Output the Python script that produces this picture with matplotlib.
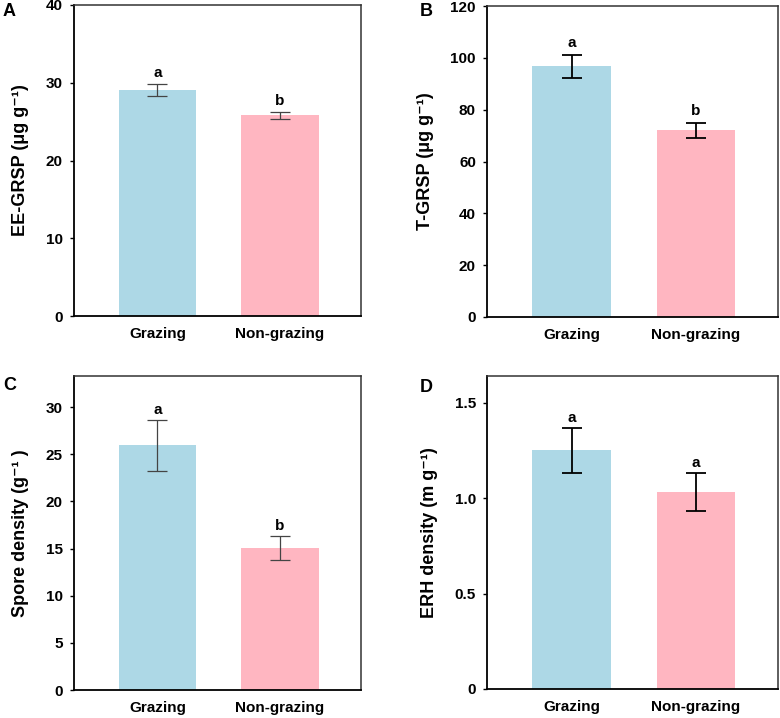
import numpy as np
import matplotlib as mpl
import matplotlib.pyplot as plt

mpl.rcParams['font.family'] = ['Liberation Sans', 'DejaVu Sans']
mpl.rcParams['font.weight'] = 'bold'

# data
groups = ['Grazing', 'Non-grazing']
colors = ['#add8e6', '#ffb6c1']

ee_grsp = [29.1, 25.8]
ee_grsp_err = [0.8, 0.5]
ee_letters = ['a', 'b']

t_grsp = [96.8, 72.0]
t_grsp_err = [4.4, 2.8]
t_letters = ['a', 'b']

spore = [25.95, 15.05]
spore_err = [2.7, 1.3]
spore_letters = ['a', 'b']

erh = [1.25, 1.031]
erh_err = [0.117, 0.1]
erh_letters = ['a', 'a']

W, H = 780, 718
fig = plt.figure(figsize=(W / 100, H / 100), dpi=100)


def px_axes(x0, y0, x1, y1):
    # pixel box (left, top, right, bottom) -> figure coords
    return fig.add_axes([x0 / W, 1 - y1 / H, (x1 - x0) / W, (y1 - y0) / H])


def bar_panel(ax, vals, errs, letters, ylim, yticks, yticklabels, ylabel,
              err_color, err_lw, letter_off):
    x = np.arange(len(groups))
    ax.bar(x, vals, width=0.63, color=colors, zorder=1)
    ax.errorbar(x, vals, yerr=errs, fmt='none', ecolor=err_color,
                elinewidth=err_lw, capsize=7, capthick=err_lw, zorder=2)
    for xi, v, e, lt in zip(x, vals, errs, letters):
        ax.text(xi, v + e + letter_off, lt, ha='center', va='bottom',
                fontsize=11, fontweight='bold')
    ax.set_xlim(-0.68, 1.66)
    ax.set_ylim(*ylim)
    ax.set_xticks(x)
    ax.set_xticklabels(groups, fontsize=11, fontweight='bold')
    ax.set_yticks(yticks)
    ax.set_yticklabels(yticklabels, fontsize=11, fontweight='bold')
    ax.tick_params(axis='x', length=0, pad=8)
    ax.tick_params(axis='y', length=3, width=1, pad=5)
    ax.set_ylabel(ylabel, fontsize=13, fontweight='bold', labelpad=12)
    for s in ['left', 'bottom']:
        ax.spines[s].set_color('black')
        ax.spines[s].set_linewidth(1.3)
    for s in ['top', 'right']:
        ax.spines[s].set_color('#333333')
        ax.spines[s].set_linewidth(1.1)


axA = px_axes(74, 5, 361, 316)
bar_panel(axA, ee_grsp, ee_grsp_err, ee_letters, (0, 40), [0, 10, 20, 30, 40],
          ['0', '10', '20', '30', '40'], 'EE-GRSP (μg g⁻¹)',
          '#444444', 0.9, 0.4)

axB = px_axes(487, 6, 778, 317)
bar_panel(axB, t_grsp, t_grsp_err, t_letters, (0, 120), [0, 20, 40, 60, 80, 100, 120],
          ['0', '20', '40', '60', '80', '100', '120'], 'T-GRSP (μg g⁻¹)',
          'black', 1.3, 1.8)

axC = px_axes(74, 376, 361, 690)
bar_panel(axC, spore, spore_err, spore_letters, (0, 33.3), [0, 5, 10, 15, 20, 25, 30],
          ['0', '5', '10', '15', '20', '25', '30'], 'Spore density (g⁻¹ )',
          '#444444', 0.9, 0.3)

axD = px_axes(487, 376, 778, 689)
bar_panel(axD, erh, erh_err, erh_letters, (0, 1.64), [0, 0.5, 1.0, 1.5],
          ['0', '0.5', '1.0', '1.5'], 'ERH density (m g⁻¹)',
          'black', 1.3, 0.015)

# panel letters
for lbl, (px, py) in zip('ABCD', [(3, 12), (420, 12), (3, 386), (420, 388)]):
    fig.text(px / W, 1 - py / H, lbl, fontsize=13, fontweight='bold',
             ha='left', va='center')

fig.savefig('out.png', dpi=100)
